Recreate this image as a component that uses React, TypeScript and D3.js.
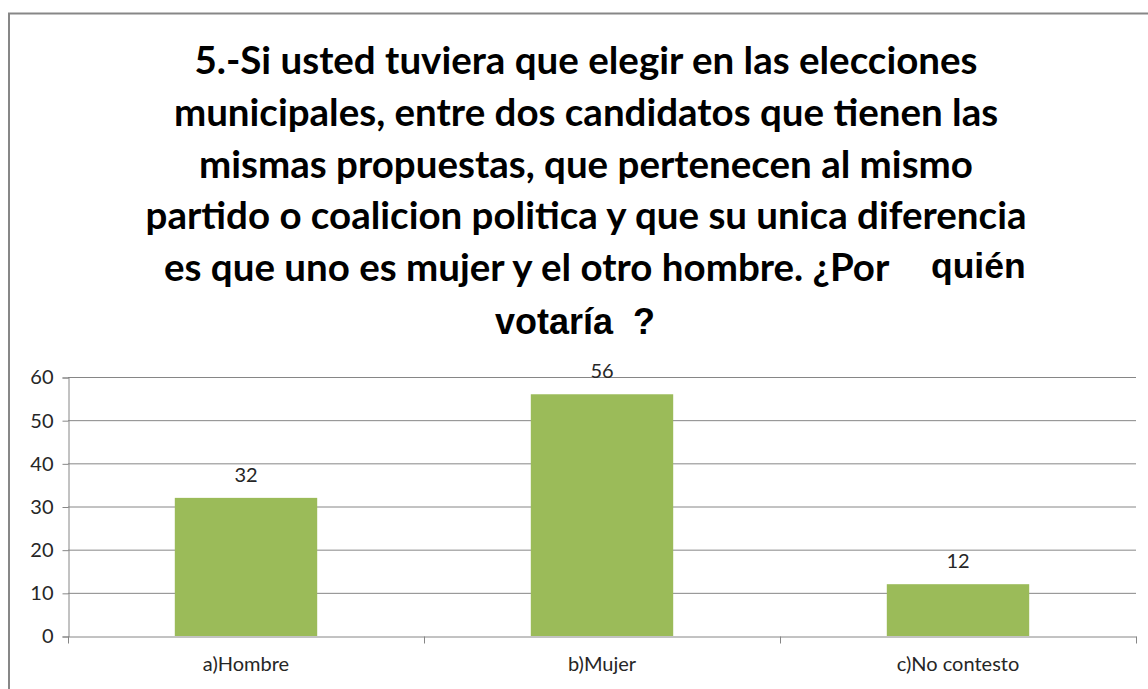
import React, { useEffect, useRef } from "react";
import * as d3 from "d3";

const categories = ["a)Hombre", "b)Mujer", "c)No contesto"];
const values = [32, 56, 12];
const yTicks = [0, 10, 20, 30, 40, 50, 60];
const titleLines = [
  "5.-Si usted tuviera que elegir en las elecciones",
  "municipales, entre dos candidatos que tienen las",
  "mismas propuestas, que pertenecen al mismo",
  "partido o coalicion politica y que su unica diferencia",
  "es que uno es mujer y el otro hombre. ¿Por",
];
const titleTail = "quién";
const titleLast = "votaría  ?";

const App = () => {
  const svgRef = useRef<SVGSVGElement>(null);

  useEffect(() => {
    const width = 1148;
    const height = 689;
    const margin = { top: 377, bottom: 53, left: 68, right: 12 };
    const bodyFont = "Lato, 'Open Sans', sans-serif";
    const arialFont = "'Liberation Sans', Arial, sans-serif";

    const svg = d3.select(svgRef.current)
      .attr("width", width)
      .attr("height", height)
      .attr("viewBox", [0, 0, width, height]);
    svg.selectAll("*").remove();

    // outer frame (runs past the right and bottom edges)
    svg.append("rect")
      .attr("x", 9).attr("y", 13.5)
      .attr("width", 1200).attr("height", 760)
      .attr("fill", "white")
      .attr("stroke", "#878787")
      .attr("stroke-width", 2);

    // title
    const title = svg.append("g")
      .attr("font-family", bodyFont)
      .attr("font-weight", "bold")
      .attr("font-size", 38.5)
      .attr("fill", "#000")
      .attr("text-anchor", "middle");

    titleLines.forEach((line, i) => {
      const last = i === titleLines.length - 1;
      const t = title.append("text")
        .attr("x", last ? 164 : 586)
        .attr("y", 74 + i * 51.8)
        .attr("text-anchor", last ? "start" : "middle");
      t.append("tspan").text(line);
      if (last) {
        // the last word was typed in another font
        t.append("tspan")
          .attr("x", 931)
          .attr("font-family", arialFont)
          .attr("font-size", 35.5)
          .attr("dy", -3)
          .text(titleTail);
      }
    });
    title.append("text")
      .attr("x", 575)
      .attr("y", 334)
      .attr("font-family", arialFont)
      .attr("font-size", 36)
      .style("white-space", "pre")
      .text(titleLast);

    // scales
    const xScale = d3.scaleBand()
      .domain(categories)
      .range([margin.left, width - margin.right])
      .paddingInner(0.6)
      .paddingOuter(0.3);

    const yScale = d3.scaleLinear()
      .domain([0, 60])
      .range([height - margin.bottom, margin.top]);

    // gridlines
    svg.append("g")
      .selectAll("line")
      .data(yTicks.filter(d => d > 0))
      .enter()
      .append("line")
      .attr("x1", margin.left)
      .attr("x2", width - margin.right)
      .attr("y1", d => yScale(d) + 0.5)
      .attr("y2", d => yScale(d) + 0.5)
      .attr("stroke", "#868686")
      .attr("stroke-width", 1);

    // bars
    svg.append("g")
      .selectAll("rect")
      .data(values)
      .enter()
      .append("rect")
      .attr("x", (d, i) => xScale(categories[i])!)
      .attr("y", d => yScale(d))
      .attr("width", xScale.bandwidth())
      .attr("height", d => yScale(0) - yScale(d))
      .attr("fill", "#9BBB59");

    // value labels
    svg.append("g")
      .selectAll("text")
      .data(values)
      .enter()
      .append("text")
      .attr("x", (d, i) => xScale(categories[i])! + xScale.bandwidth() / 2)
      .attr("y", d => yScale(d) - 16)
      .attr("text-anchor", "middle")
      .attr("font-family", bodyFont)
      .attr("font-size", 20)
      .attr("fill", "#262626")
      .text(d => d);

    // y axis
    const yAxis = d3.axisLeft(yScale).tickValues(yTicks).tickSize(6).tickPadding(9);
    const gy = svg.append("g")
      .attr("transform", `translate(${margin.left + 0.5},0.5)`)
      .call(yAxis);
    gy.selectAll("path,line").attr("stroke", "#868686");
    gy.selectAll("text")
      .attr("font-family", bodyFont)
      .attr("font-size", 20)
      .attr("fill", "#262626");

    // x axis with ticks on category boundaries
    const xAxis = d3.axisBottom(xScale).tickSize(0).tickPadding(20);
    const gx = svg.append("g")
      .attr("transform", `translate(0,${height - margin.bottom + 0.5})`)
      .call(xAxis);
    gx.select(".domain").attr("stroke", "#868686");
    gx.selectAll("text")
      .attr("font-family", bodyFont)
      .attr("font-size", 20)
      .attr("fill", "#262626");
    const step = xScale.step();
    gx.append("g")
      .selectAll("line")
      .data(d3.range(categories.length + 1))
      .enter()
      .append("line")
      .attr("x1", i => margin.left + i * step + 0.5)
      .attr("x2", i => margin.left + i * step + 0.5)
      .attr("y1", 0)
      .attr("y2", 7)
      .attr("stroke", "#868686");
  }, []);

  return (
    <div>
      <style>{`body{margin:0}`}</style>
      <svg ref={svgRef} style={{ display: "block" }}></svg>
    </div>
  );
};

export default App;
